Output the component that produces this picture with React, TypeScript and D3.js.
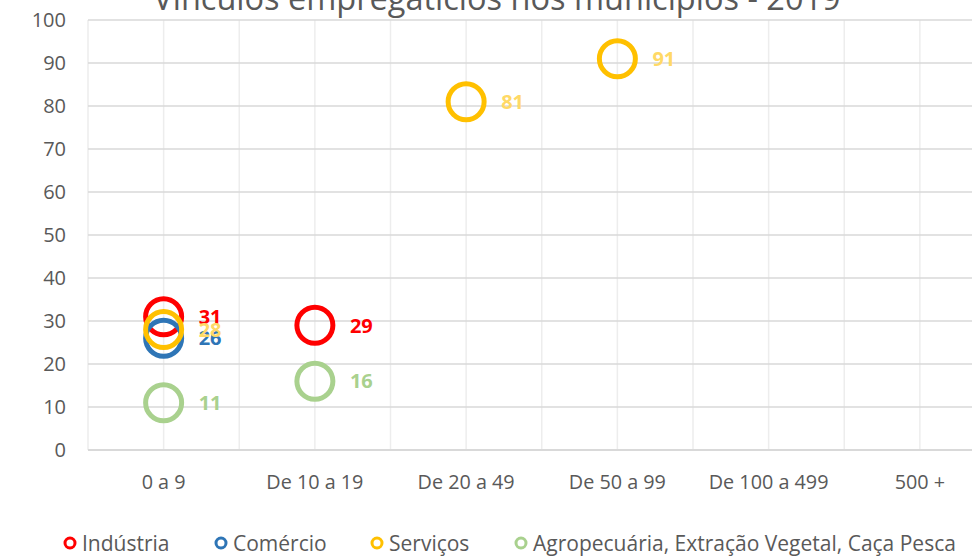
import * as d3 from 'd3';
import React from 'react';

// faixas de tamanho de estabelecimento
const categories = ['0 a 9', 'De 10 a 19', 'De 20 a 49', 'De 50 a 99', 'De 100 a 499', '500 +'];
const yTicks = [0, 10, 20, 30, 40, 50, 60, 70, 80, 90, 100];

// valores por setor (null = sem ponto)
const industria = [31, 29, null, null, null, null];
const comercio = [26, null, null, null, null, null];
const servicos = [28, null, 81, 91, null, null];
const agro = [11, 16, null, null, null, null];

const series = [
  { name: 'Indústria', values: industria, color: '#FF0000', label: '#FF0000' },
  { name: 'Comércio', values: comercio, color: '#2E75B6', label: '#2E75B6' },
  { name: 'Serviços', values: servicos, color: '#FFC000', label: '#FFD966' },
  { name: 'Agropecuária, Extração Vegetal, Caça Pesca', values: agro, color: '#A9D18E', label: '#A9D18E' },
];

const legendX = [70, 221, 377, 521];

const W = 972;
const H = 556;
const font = '"Open Sans", sans-serif';

export default function App() {
  const plot = { left: 88, right: 995.5, top: 20, bottom: 450 };

  const x = d3.scaleLinear().domain([0, categories.length]).range([plot.left, plot.right]);
  const y = d3.scaleLinear().domain([0, 100]).range([plot.bottom, plot.top]);

  const vLines = d3.range(0, categories.length + 0.01, 0.5);

  return (
    <svg width={W} height={H} style={{ position: 'absolute', left: 0, top: 0, background: '#fff' }} fontFamily={font}>
      <rect width={W} height={H} fill="#fff" />
      <text x={497} y={10} textAnchor="middle" fontSize={32.5} fill="#595959">
        Vínculos empregatícios nos municípios - 2019
      </text>

      {/* grade vertical */}
      {vLines.map(v => (
        <line key={'v' + v} x1={x(v)} x2={x(v)} y1={plot.top} y2={plot.bottom} stroke="#EDEDED" strokeWidth={1.5} />
      ))}
      {/* grade horizontal */}
      {yTicks.map(t => (
        <line key={'h' + t} x1={plot.left} x2={plot.right} y1={y(t)} y2={y(t)} stroke="#D9D9D9" strokeWidth={t === 0 ? 2 : 1.5} />
      ))}

      {yTicks.map(t => (
        <text key={'yt' + t} x={66} y={y(t)} dy="0.35em" textAnchor="end" fontSize={20} fill="#595959">
          {t}
        </text>
      ))}
      {categories.map((c, i) => (
        <text key={c} x={x(i + 0.5)} y={489} textAnchor="middle" fontSize={19.8} fill="#595959">
          {c}
        </text>
      ))}

      {series.map(s => (
        <g key={s.name}>
          {s.values.map((v, i) => v == null ? null : (
            <circle key={i} cx={x(i + 0.5)} cy={y(v)} r={18} fill="none" stroke={s.color} strokeWidth={5} />
          ))}
        </g>
      ))}
      {series.map(s => (
        <g key={s.name + 'l'}>
          {s.values.map((v, i) => v == null ? null : (
            <text key={i} x={x(i + 0.5) + 35} y={y(v)} dy="0.36em" fontSize={20} fontWeight="bold" fill={s.label}>
              {v}
            </text>
          ))}
        </g>
      ))}

      {series.map((s, i) => (
        <g key={s.name + 'lg'} transform={`translate(${legendX[i]},543)`}>
          <circle cx={0} cy={0} r={5} fill="none" stroke={s.color} strokeWidth={3} />
          <text x={12} y={0} dy="0.36em" fontSize={21} fill="#595959">
            {s.name}
          </text>
        </g>
      ))}
    </svg>
  );
}
